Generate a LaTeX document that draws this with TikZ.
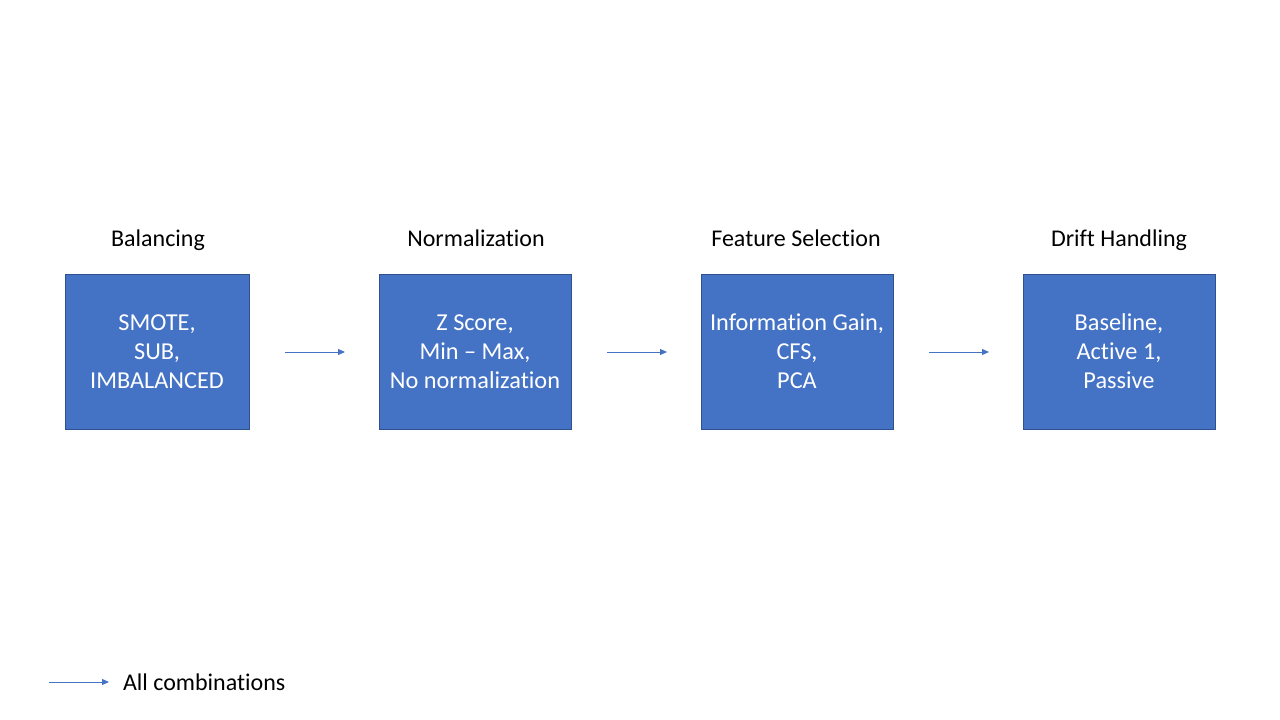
\documentclass[tikz,border=0pt]{standalone}
\usepackage{fontspec}
\setmainfont[Ligatures=NoCommon]{Carlito}
\usetikzlibrary{arrows.meta}
\definecolor{boxfill}{HTML}{4472C4}
\definecolor{boxline}{HTML}{2F528F}
\begin{document}
\begin{tikzpicture}[x=1pt,y=-1pt,
  stagebox/.style={draw=boxline, line width=0.8pt, fill=boxfill, text=white, align=center,
    minimum height=155pt, inner sep=0pt, font=\fontsize{24.3}{29}\selectfont},
  title/.style={font=\fontsize{24}{28}\selectfont, anchor=center, text depth=0pt},
  conn/.style={draw=boxfill, line width=1pt, -{Triangle[length=7pt,width=6pt]}}]
\useasboundingbox (0,0) rectangle (1280,720);
\node[title] (t1) at (158,238) {Balancing};
\node[title] (t2) at (476,238) {Normalization};
\node[title] (t3) at (796,238) {Feature Selection};
\node[title] (t4) at (1119,238) {Drift Handling};
\node[stagebox, minimum width=184pt] (b1) at (157,351.5) {SMOTE,\\SUB,\\IMBALANCED};
\node[stagebox, minimum width=192pt] (b2) at (475,351.5) {Z Score,\\Min -- Max,\\No normalization};
\node[stagebox, minimum width=192pt] (b3) at (797,351.5) {Information Gain,\\CFS,\\PCA};
\node[stagebox, minimum width=192pt] (b4) at (1119,351.5) {Baseline,\\Active 1,\\Passive};
\coordinate (a1s) at (285,352); \coordinate (a1e) at (345,352);
\coordinate (a2s) at (607,352); \coordinate (a2e) at (667,352);
\coordinate (a3s) at (929,352); \coordinate (a3e) at (989,352);
\draw[conn] (a1s) -- (a1e);
\draw[conn] (a2s) -- (a2e);
\draw[conn] (a3s) -- (a3e);
\coordinate (ls) at (49,682); \coordinate (le) at (109,682);
\draw[conn] (ls) -- (le);
\node[title, anchor=west] (lt) at (119.5,682) {All combinations};
\end{tikzpicture}
\end{document}
